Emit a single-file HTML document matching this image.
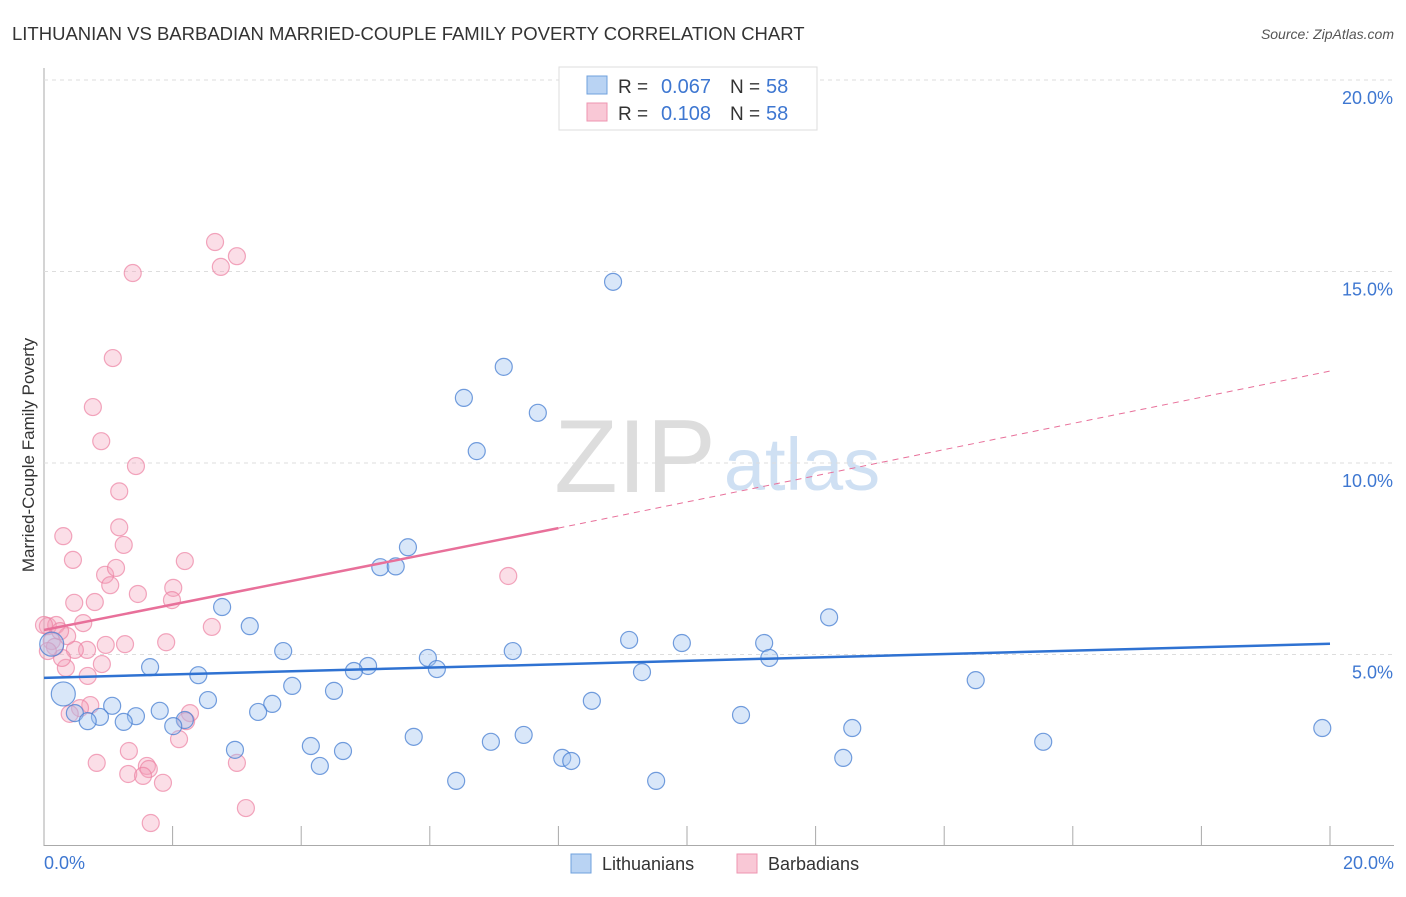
<!DOCTYPE html>
<html><head><meta charset="utf-8"><style>
body{margin:0;background:#fff;font-family:"Liberation Sans",sans-serif}
svg text{font-family:"Liberation Sans",sans-serif}
</style></head><body>
<svg id="c" width="1406" height="892" xmlns="http://www.w3.org/2000/svg">
<text x="12" y="40" font-size="18.5" fill="#333">LITHUANIAN VS BARBADIAN MARRIED-COUPLE FAMILY POVERTY CORRELATION CHART</text>
<text x="1394" y="39" font-size="14" fill="#555" font-style="italic" text-anchor="end">Source: ZipAtlas.com</text>
<text x="635" y="492" font-size="104" fill="#ddd" font-family="Liberation Serif" text-anchor="middle">ZIP</text>
<text x="802" y="490" font-size="74" fill="#cfe0f3" text-anchor="middle">atlas</text>
<g id="grid"></g><g id="marks"></g>
<text transform="translate(34,455) rotate(-90)" font-size="17" fill="#333" text-anchor="middle">Married-Couple Family Poverty</text>
<g>
<rect x="559" y="67" width="258" height="63" fill="#fff" stroke="#ddd"/>
<rect x="587" y="76" width="20" height="18" fill="#b9d3f3" stroke="#6fa0dc"/>
<rect x="587" y="103" width="20" height="18" fill="#f9c8d6" stroke="#ee95b0"/>
<text x="618" y="93" font-size="19" fill="#333">R =</text>
<text x="711" y="93" font-size="20" fill="#3e77d1" text-anchor="end">0.067</text>
<text x="730" y="93" font-size="19" fill="#333">N =</text>
<text x="766" y="93" font-size="20" fill="#3e77d1">58</text>
<text x="618" y="120" font-size="19" fill="#333">R =</text>
<text x="711" y="120" font-size="20" fill="#3e77d1" text-anchor="end">0.108</text>
<text x="730" y="120" font-size="19" fill="#333">N =</text>
<text x="766" y="120" font-size="20" fill="#3e77d1">58</text>
</g>
<g>
<rect x="571" y="854" width="20" height="19" fill="#b9d3f3" stroke="#6fa0dc"/>
<text x="602" y="870" font-size="18" fill="#333">Lithuanians</text>
<rect x="737" y="854" width="20" height="19" fill="#f9c8d6" stroke="#ee95b0"/>
<text x="768" y="870" font-size="18" fill="#333">Barbadians</text>
</g>
</svg>
<script>
const xTicks=[0,2,4,6,8,10,12,14,16,18,20];
const yTicks=[5,10,15,20];
const blueX=[8.85,7.15,6.53,7.68,6.73,5.66,5.23,5.47,2.77,3.20,12.21,9.10,9.92,11.20,7.29,3.72,1.65,5.97,6.11,5.04,4.82,2.40,9.30,11.28,14.49,3.86,4.51,0.30,2.55,1.06,3.55,8.52,1.80,3.33,0.48,0.87,1.43,0.68,1.24,2.19,2.01,10.84,12.57,5.75,7.46,6.95,15.54,19.88,4.15,4.65,2.97,8.06,8.20,12.43,4.29,6.41,9.52,0.12];
const blueY=[14.73,12.51,11.70,11.31,10.31,7.80,7.28,7.30,6.24,5.74,5.97,5.38,5.30,5.30,5.09,5.09,4.67,4.91,4.62,4.70,4.57,4.46,4.54,4.91,4.33,4.18,4.05,3.97,3.81,3.66,3.71,3.79,3.53,3.50,3.47,3.37,3.39,3.26,3.24,3.29,3.13,3.42,3.08,2.85,2.90,2.72,2.72,3.08,2.61,2.48,2.51,2.30,2.22,2.30,2.09,1.70,1.70,5.27];
const pinkX=[2.66,3.00,2.75,1.38,1.07,0.76,0.89,1.43,1.17,1.17,0.30,1.24,0.45,2.19,0.95,1.12,1.03,7.22,1.46,2.01,1.99,0.47,0.79,2.61,0.61,0.06,0.19,1.26,1.90,0.96,0.67,0.48,0.36,0.12,0.17,0.90,0.34,0.28,0.68,0.72,0.56,2.27,2.21,2.10,1.32,0.82,3.00,1.60,1.63,1.31,1.54,1.85,3.14,1.66,0.0,0.25,0.06,0.40];
const pinkY=[15.77,15.40,15.12,14.96,12.74,11.46,10.57,9.92,9.26,8.32,8.09,7.86,7.47,7.44,7.08,7.26,6.81,7.05,6.58,6.74,6.42,6.35,6.37,5.72,5.82,5.74,5.77,5.27,5.32,5.25,5.12,5.12,5.48,5.35,5.20,4.75,4.65,4.91,4.44,3.68,3.60,3.47,3.26,2.79,2.48,2.17,2.17,2.09,2.01,1.88,1.83,1.65,0.99,0.60,5.77,5.61,5.09,3.45];
const xs=v=>44+v/20*1286, ys=v=>846-v/5*191.5;
const NS='http://www.w3.org/2000/svg';
function mk(t,a,p){const e=document.createElementNS(NS,t);for(const k in a)e.setAttribute(k,a[k]);p.appendChild(e);return e;}
const g=document.getElementById('grid'),m=document.getElementById('marks');
mk('line',{x1:44,y1:68,x2:44,y2:846,stroke:'#aaa'},g);
mk('line',{x1:44,y1:845.5,x2:1394,y2:845.5,stroke:'#aaa'},g);
yTicks.forEach(v=>{const l=mk('line',{x1:44,x2:1394,y1:ys(v),y2:ys(v),stroke:'#ddd','stroke-dasharray':'4,4'},g);

const t=mk('text',{x:1393,y:ys(v)+24,'font-size':18,fill:'#3e77d1','text-anchor':'end'},g);t.textContent=v.toFixed(1)+'%';
});
xTicks.forEach(v=>{const l=mk('line',{x1:xs(v),x2:xs(v),y1:826,y2:846,stroke:'#aaa'},g);
});
[[0,'start',44],[20,'end',1394]].forEach(([v,a,x])=>{const t=mk('text',{x:x,y:869,'font-size':18,fill:'#3e77d1','text-anchor':a},g);t.textContent=v.toFixed(1)+'%';
});
pinkX.forEach((x,i)=>{const c=mk('circle',{cx:xs(x),cy:ys(pinkY[i]),r:8.5,fill:'rgba(244,160,186,0.35)',stroke:'rgba(236,130,163,0.7)','stroke-width':1.2},m);
});
blueX.forEach((x,i)=>{const big=(i==27||i==57);const c=mk('circle',{cx:xs(x),cy:ys(blueY[i]),r:big?12:8.5,fill:'rgba(160,196,240,0.4)',stroke:'rgba(70,125,210,0.75)','stroke-width':1.2},m);
});
const bt=mk('line',{x1:xs(0),y1:ys(4.39),x2:xs(20),y2:ys(5.28),stroke:'#2f72d2','stroke-width':2.5},m);

const pt=mk('line',{x1:xs(0),y1:ys(5.64),x2:xs(8),y2:ys(8.3),stroke:'#e8709a','stroke-width':2.5},m);

const pd=mk('line',{x1:xs(8),y1:ys(8.3),x2:xs(20),y2:ys(12.4),stroke:'#e8709a','stroke-width':1,'stroke-dasharray':'6,5'},m);

</script>
</body></html>
